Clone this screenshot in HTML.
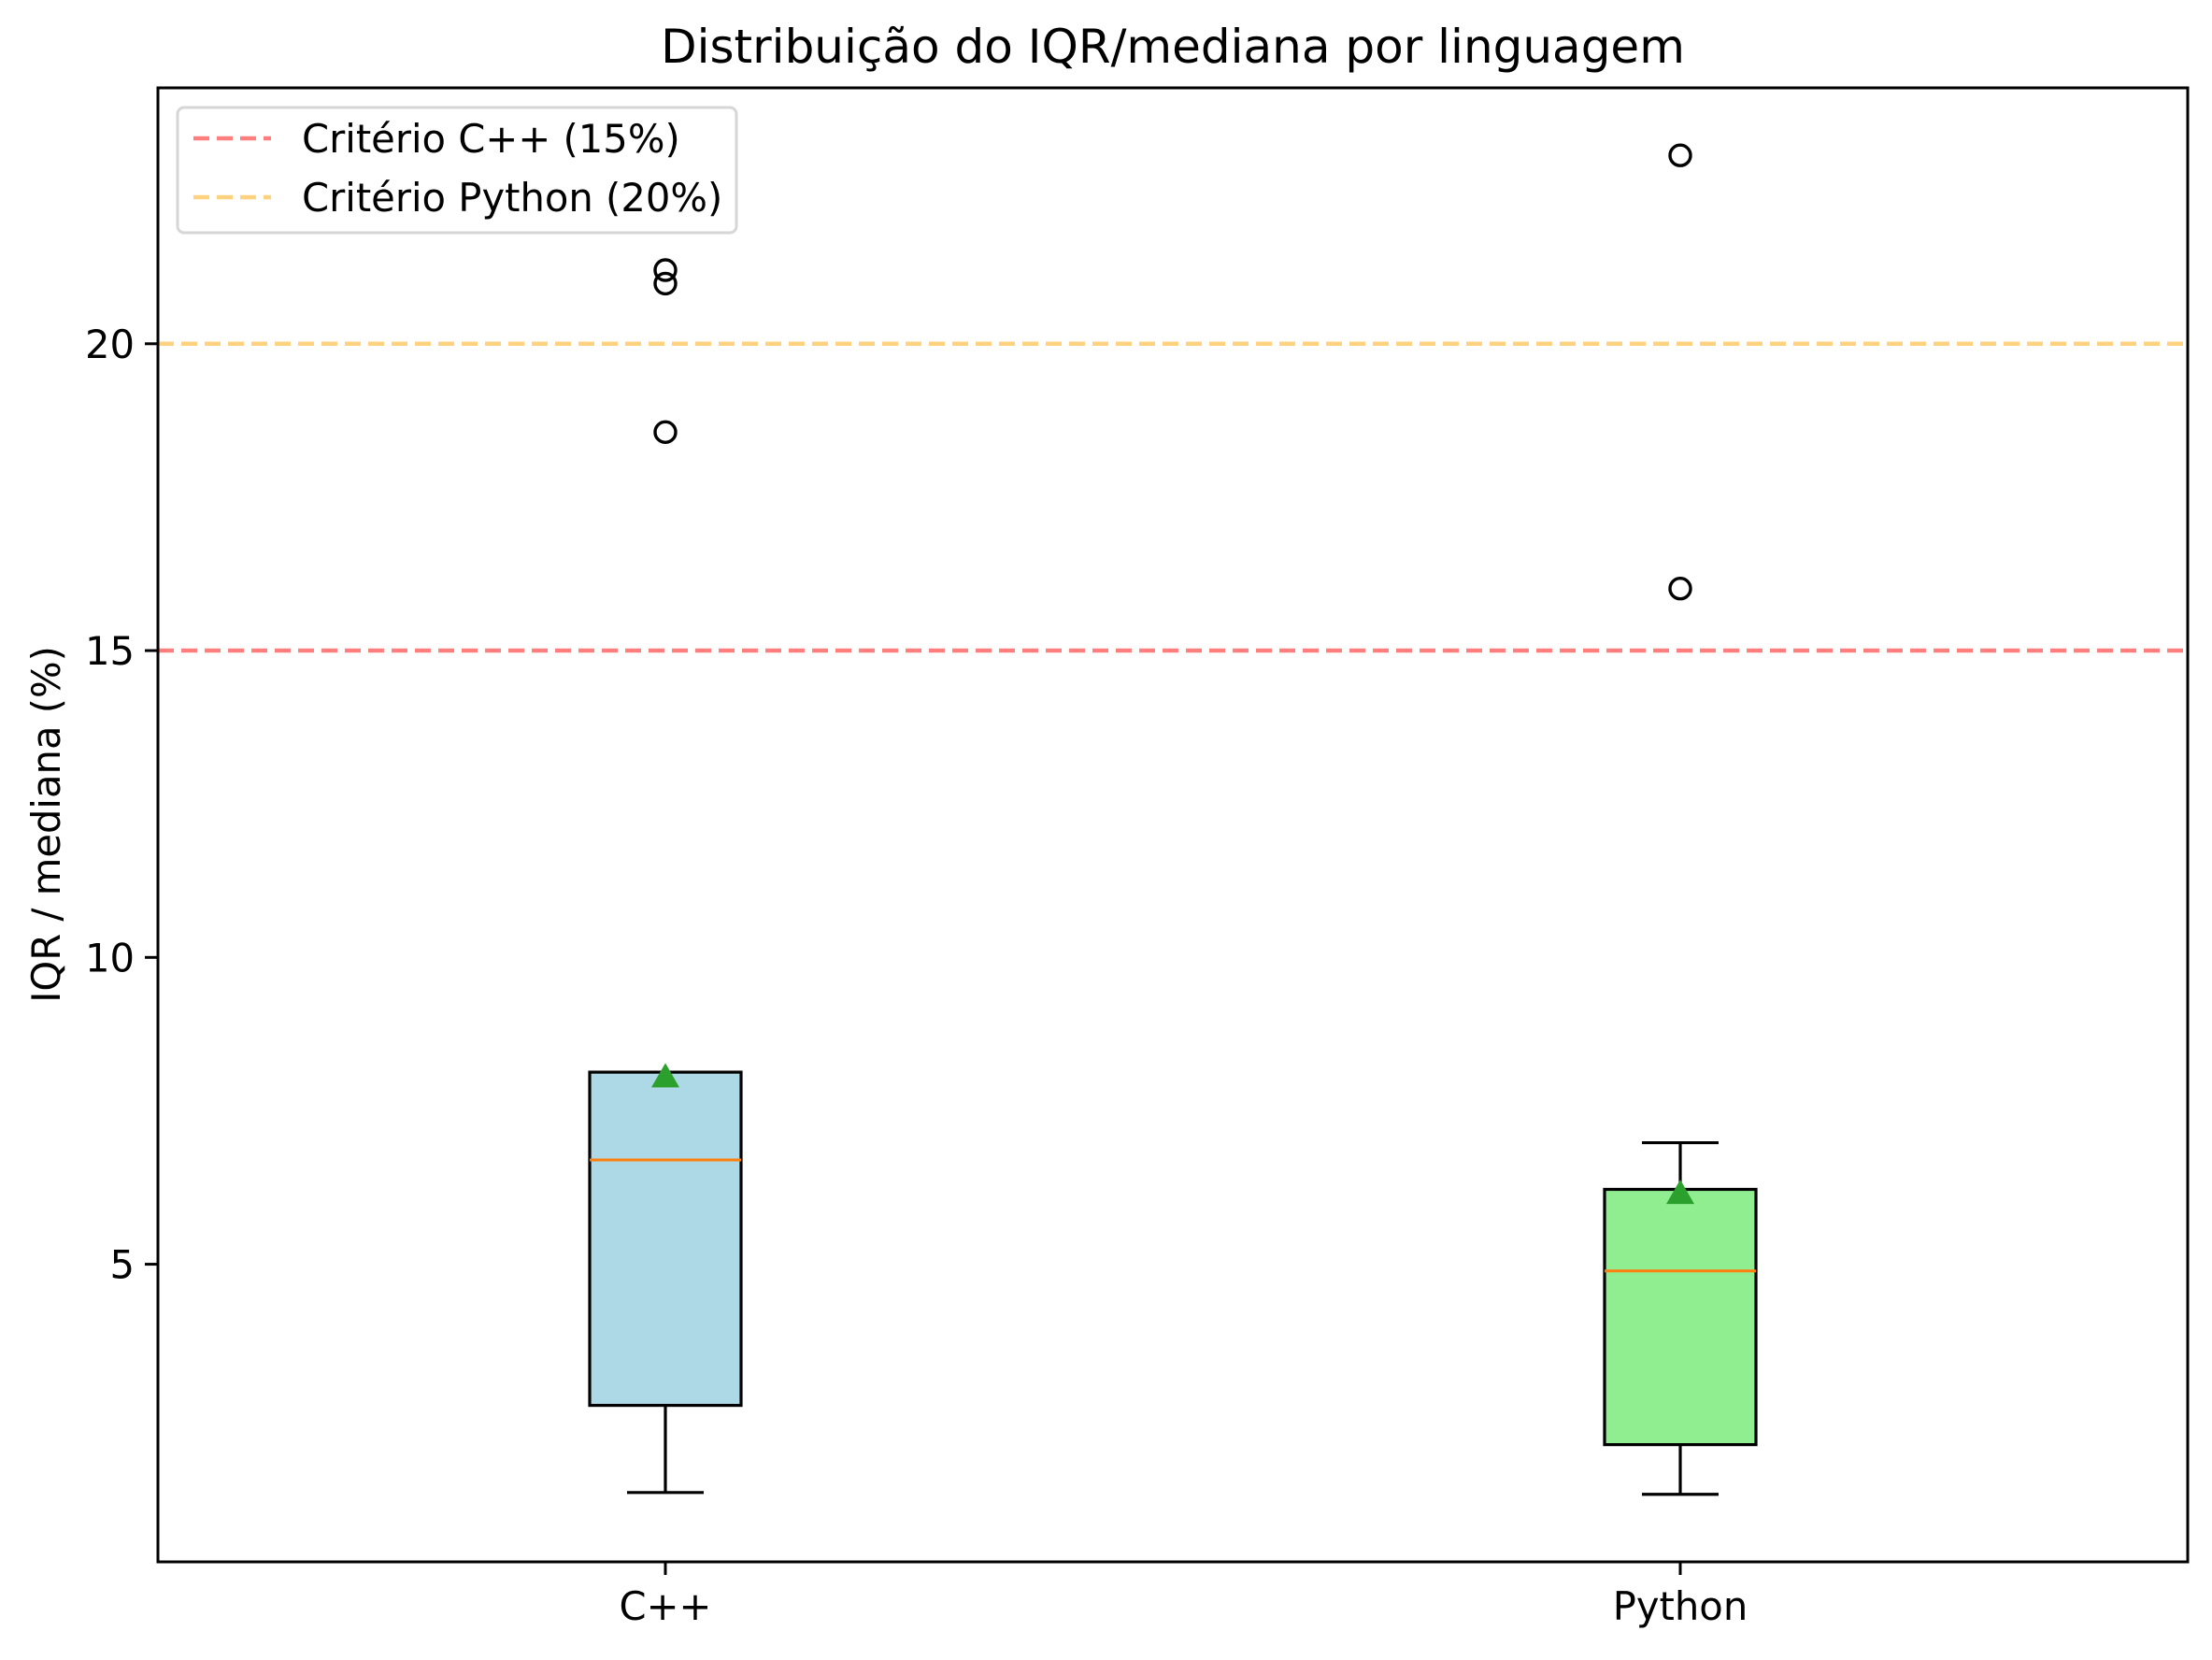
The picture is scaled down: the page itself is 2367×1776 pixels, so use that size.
<!DOCTYPE html>
<html><head><meta charset="utf-8"><style>
body{margin:0;background:#fff}
svg text{font-family:"DejaVu Sans","Liberation Sans",sans-serif;fill:#000}
</style></head><body>
<svg id="chart" width="2367" height="1771" viewBox="0 0 2367 1771" xmlns="http://www.w3.org/2000/svg">
<rect width="2367" height="1771" fill="#fff"/>
<g id="plot"></g>
<text x="1255" y="67" font-size="50" text-anchor="middle">Distribuição do IQR/mediana por linguagem</text>
<text x="0" y="0" font-size="41.7" text-anchor="middle" transform="translate(64,882) rotate(-90)">IQR / mediana (%)</text>
</svg>
<script>
const categories = ["C++", "Python"];
const q1 = [2.70, 2.06];
const q3 = [8.13, 6.22];
const medians = [6.70, 4.89];
const whiskerLow = [1.28, 1.25];
const whiskerHigh = [8.13, 6.98];
const means = [8.05, 6.15];
const outliersCpp = [18.56, 20.98, 21.2];
const outliersPy = [16.01, 23.07];
const yTicks = [5, 10, 15, 20];
const thresholds = [15, 20];
const thresholdLabels = ["Critério C++ (15%)", "Critério Python (20%)"];
const fills = ["#add8e6", "#90ee90"];
const lineColors = ["#ff7f7f", "#ffd27f"];

const NS = "http://www.w3.org/2000/svg";
const L = 169, R = 2341, T = 94, B = 1671;
const yMin = 0.15, yMax = 24.17;
const y = v => B - (v - yMin) / (yMax - yMin) * (B - T);
const x = i => L + (R - L) * (0.25 + 0.5 * i);
const g = document.getElementById("plot");
function mk(tag, attrs, parent) {
  const e = document.createElementNS(NS, tag);
  for (const k in attrs) e.setAttribute(k, attrs[k]);
  (parent || g).appendChild(e);
  return e;
}
thresholds.forEach((t, i) => {
  const ln = mk("line", {x1: L, x2: R, y1: y(t), y2: y(t), stroke: lineColors[i], "stroke-width": 4.5, "stroke-dasharray": "17 8"});
  
  
});
const hw = 81;
categories.forEach((c, i) => {
  const cx = x(i);
  const bg = mk("g", {});
  
  
  mk("line", {x1: cx, x2: cx, y1: y(q1[i]), y2: y(whiskerLow[i]), stroke: "#000", "stroke-width": 3.2}, bg);
  mk("line", {x1: cx - 41, x2: cx + 41, y1: y(whiskerLow[i]), y2: y(whiskerLow[i]), stroke: "#000", "stroke-width": 3.2}, bg);
  mk("line", {x1: cx, x2: cx, y1: y(q3[i]), y2: y(whiskerHigh[i]), stroke: "#000", "stroke-width": 3.2}, bg);
  mk("line", {x1: cx - 41, x2: cx + 41, y1: y(whiskerHigh[i]), y2: y(whiskerHigh[i]), stroke: "#000", "stroke-width": 3.2}, bg);
  mk("rect", {x: cx - hw, y: y(q3[i]), width: 2 * hw, height: y(q1[i]) - y(q3[i]), fill: fills[i], stroke: "#000", "stroke-width": 3.2}, bg);
  mk("line", {x1: cx - hw, x2: cx + hw, y1: y(medians[i]), y2: y(medians[i]), stroke: "#ff7f0e", "stroke-width": 3}, bg);
  const my = y(means[i]);
  const tri = mk("polygon", {points: `${cx},${my - 15} ${cx - 15},${my + 11} ${cx + 15},${my + 11}`, fill: "#2ca02c"}, bg);
  
  
  const outs = i === 0 ? outliersCpp : outliersPy;
  outs.forEach(o => {
    const c2 = mk("circle", {cx: cx, cy: y(o), r: 11, fill: "none", stroke: "#000", "stroke-width": 3.4}, bg);
    
    
  });
  mk("line", {x1: cx, x2: cx, y1: B, y2: B + 14, stroke: "#000", "stroke-width": 3});
  const tl = mk("text", {x: cx, y: B + 62, "font-size": 41.7, "text-anchor": "middle"});
  tl.textContent = c;
  
  
});
yTicks.forEach(t => {
  mk("line", {x1: L - 14, x2: L, y1: y(t), y2: y(t), stroke: "#000", "stroke-width": 3});
  const tl = mk("text", {x: L - 25, y: y(t) + 15, "font-size": 41.7, "text-anchor": "end"});
  tl.textContent = t;
  
  
});
const fr = mk("rect", {x: L, y: T, width: R - L, height: B - T, fill: "none", stroke: "#000", "stroke-width": 3});


const lg = mk("g", {});


mk("rect", {x: 190, y: 115, width: 598, height: 134, rx: 7, fill: "#fff", "fill-opacity": 0.8, stroke: "#d6d6d6", "stroke-width": 3}, lg);
thresholdLabels.forEach((lab, i) => {
  const ly = 148 + i * 63;
  mk("line", {x1: 207, x2: 290, y1: ly, y2: ly, stroke: lineColors[i], "stroke-width": 4.5, "stroke-dasharray": "17 8"}, lg);
  const t = mk("text", {x: 323, y: ly + 15, "font-size": 41.7}, lg);
  t.textContent = lab;
  
  
});
</script>
</body></html>
